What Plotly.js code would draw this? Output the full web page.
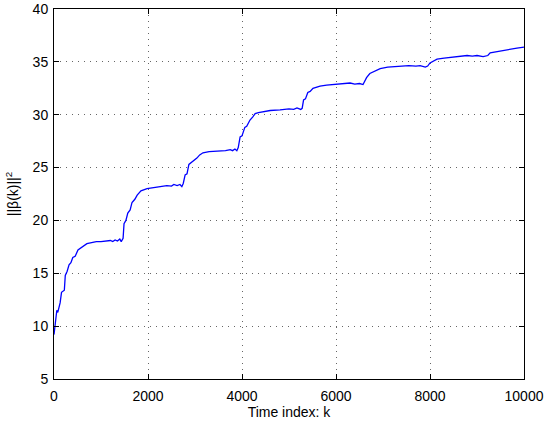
<!DOCTYPE html>
<html>
<head>
<meta charset="utf-8">
<script src="https://cdn.plot.ly/plotly-3.0.1.min.js"></script>
<style>
  body { margin: 0; padding: 0; background: #fff; }
  #myPlot { width: 550px; height: 421px; }
</style>
</head>
<body>
<div id="myPlot"></div>
<script>
// time index k and ||beta(k)||^2
const kIdx = [0,20,40,60,80,100,130,160,190,220,240,280,320,360,400,450,510,600,700,800,
  900,1000,1100,1200,1250,1300,1350,1400,1430,1470,1490,1530,1570,1620,1660,1720,1770,1850,1980,2100,
  2250,2400,2500,2550,2620,2680,2720,2750,2790,2830,2870,2900,2960,3040,3100,3170,3300,3530,3650,3750,
  3800,3850,3890,3920,3960,4000,4060,4100,4170,4230,4280,4350,4450,4600,4810,5000,5100,5170,5250,5280,
  5310,5350,5400,5450,5510,5660,5800,6020,6200,6300,6400,6500,6575,6620,6650,6720,6770,6850,6940,7100,
  7360,7550,7700,7790,7900,7950,8000,8080,8150,8300,8570,8790,8900,9000,9130,9230,9280,9400,9490,9700,
  9850,10000];
const beta = [9.2,10.0,11.2,11.5,11.3,11.6,12.2,13.2,13.3,13.4,14.8,15.2,15.8,16.0,16.5,16.6,17.2,17.5,17.8,17.9,
  18.0,18.0,18.05,18.1,18.0,18.15,18.05,18.25,18.0,18.3,19.7,20.0,20.7,21.0,21.7,22.0,22.4,22.8,23.0,23.1,
  23.2,23.3,23.25,23.4,23.3,23.4,23.2,23.5,24.3,24.4,25.3,25.4,25.6,25.9,26.2,26.4,26.5,26.55,26.6,26.7,
  26.6,26.75,26.6,26.9,27.9,28.0,28.8,28.9,29.5,29.8,30.1,30.2,30.3,30.4,30.45,30.55,30.5,30.65,30.5,30.6,
  31.4,31.5,32.1,32.2,32.5,32.7,32.8,32.9,32.95,33.0,32.9,32.95,32.85,33.3,33.5,33.9,34.0,34.2,34.35,34.5,
  34.6,34.65,34.6,34.65,34.5,34.6,34.9,35.1,35.25,35.35,35.45,35.6,35.55,35.6,35.5,35.6,35.85,35.95,36.05,36.2,
  36.3,36.4];

const xTicks = [0,2000,4000,6000,8000,10000];
const yTicks = [5,10,15,20,25,30,35,40];

const data = [{
  x: kIdx,
  y: beta,
  mode: "lines",
  line: {color: "rgb(0,0,255)", width: 1.3},
  hoverinfo: "skip"
}];

const axisStyle = {
  showline: true,
  linecolor: "#000",
  linewidth: 1,
  mirror: "ticks",
  ticks: "inside",
  ticklen: 5,
  tickcolor: "#000",
  showgrid: true,
  gridcolor: "#666",
  griddash: "1px,5px",
  gridwidth: 1,
  zeroline: false,
  tickfont: {family: "Liberation Sans, Arial, sans-serif", size: 14, color: "#000"}
};

const layout = {
  width: 550,
  height: 421,
  margin: {l: 54, r: 26, t: 9, b: 42},
  paper_bgcolor: "#fff",
  plot_bgcolor: "#fff",
  showlegend: false,
  font: {family: "Liberation Sans, Arial, sans-serif", size: 14, color: "#000"},
  xaxis: Object.assign({}, axisStyle, {
    range: [0, 10000],
    tickvals: xTicks,
    ticktext: xTicks.map(String),
    ticklabelstandoff: 4,
    title: {text: "Time index: k", font: {size: 14}, standoff: 3}
  }),
  yaxis: Object.assign({}, axisStyle, {
    range: [5, 40],
    tickvals: yTicks,
    ticktext: yTicks.map(String),
    ticklabelstandoff: 2,
    title: {text: "||β(k)||<sup style=\"font-size:14px\">2</sup>", font: {size: 14}, standoff: 10}
  })
};

Plotly.newPlot("myPlot", data, layout, {staticPlot: true, displayModeBar: false});
</script>
</body>
</html>
